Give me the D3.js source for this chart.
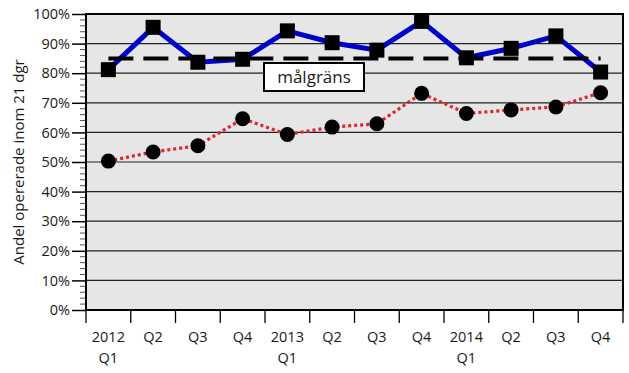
<!DOCTYPE html>
<html>
<head>
<meta charset="utf-8">
<script src="https://cdn.jsdelivr.net/npm/d3@7"></script>
<style>
    body { margin: 0; background: #fff; }
    text { font-family: "Open Sans", sans-serif; fill: #1a1a1a; }
</style>
</head>
<body>
<svg id="chart" width="629" height="373"></svg>
<script>
// quarters, shown as two-line labels
var quarters = ['2012 Q1', 'Q2', 'Q3', 'Q4', '2013 Q1', 'Q2', 'Q3', 'Q4', '2014 Q1', 'Q2', 'Q3', 'Q4'];
var labelTop = ['2012', 'Q2', 'Q3', 'Q4', '2013', 'Q2', 'Q3', 'Q4', '2014', 'Q2', 'Q3', 'Q4'];
var labelBottom = ['Q1', '', '', '', 'Q1', '', '', '', 'Q1', '', '', ''];

// blue series (squares) and red series (circles), percent
var blueValues = [81.2, 95.5, 83.7, 84.7, 94.3, 90.3, 87.8, 97.5, 85.2, 88.4, 92.6, 80.4];
var redValues = [50.3, 53.4, 55.5, 64.6, 59.3, 61.8, 62.9, 73.2, 66.4, 67.6, 68.6, 73.4];

var targetValue = 85;
var targetLabel = 'målgräns';
var yTicks = [0, 10, 20, 30, 40, 50, 60, 70, 80, 90, 100];

var svg = d3.select('#chart');
var plotLeft = 86, plotRight = 623, plotTop = 14, plotBottom = 310;

var x = d3.scaleBand().domain(d3.range(quarters.length)).range([plotLeft, plotRight]);
var y = d3.scaleLinear().domain([0, 100]).range([plotBottom, plotTop]);
var cx = function(i) { return x(i) + x.bandwidth() / 2; };

// plot background
svg.append('rect')
    .attr('x', plotLeft).attr('y', plotTop)
    .attr('width', plotRight - plotLeft).attr('height', plotBottom - plotTop)
    .attr('fill', '#e6e6e6');

// grid lines
svg.selectAll('.grid')
    .data(yTicks.slice(1, -1)).enter()
    .append('line')
    .attr('class', 'grid')
    .attr('x1', plotLeft).attr('x2', plotRight)
    .attr('y1', function(d) { return y(d); })
    .attr('y2', function(d) { return y(d); })
    .attr('stroke', '#222').attr('stroke-width', 1.2);

// minor ticks every 2%
var minor = d3.range(0, 101, 2).filter(function(d) { return d % 10 !== 0; });
svg.selectAll('.minor')
    .data(minor).enter()
    .append('line')
    .attr('x1', 80).attr('x2', plotLeft)
    .attr('y1', function(d) { return y(d); })
    .attr('y2', function(d) { return y(d); })
    .attr('stroke', '#555').attr('stroke-width', 1);

// y axis
var yAxis = svg.append('g')
    .attr('transform', 'translate(' + plotLeft + ',0)')
    .call(d3.axisLeft(y).tickValues(yTicks).tickSize(14).tickPadding(2)
        .tickFormat(function(d) { return d + '%'; }));
yAxis.select('.domain').remove();
yAxis.selectAll('line').attr('stroke', '#000').attr('stroke-width', 1.5);
yAxis.selectAll('text').style('font-size', '14.5px').attr('fill', '#1a1a1a')
    .style('font-family', '"Open Sans", sans-serif');

// x axis ticks at band edges
svg.selectAll('.xtick')
    .data(d3.range(quarters.length + 1)).enter()
    .append('line')
    .attr('x1', function(i) { return i < quarters.length ? x(i) : plotRight; })
    .attr('x2', function(i) { return i < quarters.length ? x(i) : plotRight; })
    .attr('y1', plotBottom).attr('y2', plotBottom + 13)
    .attr('stroke', '#000').attr('stroke-width', 1.3);

var xl = svg.selectAll('.xlabel')
    .data(quarters).enter()
    .append('text')
    .attr('text-anchor', 'middle')
    .style('font-size', '14.5px');
xl.append('tspan')
    .attr('x', function(d, i) { return cx(i); })
    .attr('y', 342)
    .text(function(d, i) { return labelTop[i]; });
xl.append('tspan')
    .attr('x', function(d, i) { return cx(i); })
    .attr('y', 363)
    .text(function(d, i) { return labelBottom[i]; });

// plot border
svg.append('rect')
    .attr('x', plotLeft).attr('y', plotTop)
    .attr('width', plotRight - plotLeft).attr('height', plotBottom - plotTop)
    .attr('fill', 'none').attr('stroke', '#000').attr('stroke-width', 2);

// y label
svg.append('text')
    .attr('transform', 'translate(24,' + ((plotTop + plotBottom) / 2) + ') rotate(-90)')
    .attr('text-anchor', 'middle')
    .style('font-size', '15px')
    .text('Andel opererade inom 21 dgr');

var line = d3.line().x(function(d, i) { return cx(i); }).y(function(d) { return y(d); });

// red dotted series
svg.append('path')
    .datum(redValues)
    .attr('d', line)
    .attr('fill', 'none')
    .attr('stroke', '#e8202a')
    .attr('stroke-width', 3.2)
    .attr('stroke-dasharray', '3,3');

svg.selectAll('.dot')
    .data(redValues).enter()
    .append('circle')
    .attr('cx', function(d, i) { return cx(i); })
    .attr('cy', function(d) { return y(d); })
    .attr('r', 7.5)
    .attr('fill', '#000');

// blue series
svg.append('path')
    .datum(blueValues)
    .attr('d', line)
    .attr('fill', 'none')
    .attr('stroke', '#0000cc')
    .attr('stroke-width', 5);

// target dashed line
svg.append('line')
    .attr('x1', cx(0)).attr('x2', cx(quarters.length - 1))
    .attr('y1', y(targetValue)).attr('y2', y(targetValue))
    .attr('stroke', '#000')
    .attr('stroke-width', 4)
    .attr('stroke-dasharray', '25,10');

svg.selectAll('.sq')
    .data(blueValues).enter()
    .append('rect')
    .attr('x', function(d, i) { return cx(i) - 7.5; })
    .attr('y', function(d) { return y(d) - 7.5; })
    .attr('width', 15).attr('height', 15)
    .attr('fill', '#000');

// target label box
svg.append('rect')
    .attr('x', 264).attr('y', 63)
    .attr('width', 100).attr('height', 28)
    .attr('fill', '#fff').attr('stroke', '#000').attr('stroke-width', 2);
svg.append('text')
    .attr('x', 314).attr('y', 83)
    .attr('text-anchor', 'middle')
    .style('font-size', '17px')
    .text(targetLabel);
</script>
</body>
</html>
